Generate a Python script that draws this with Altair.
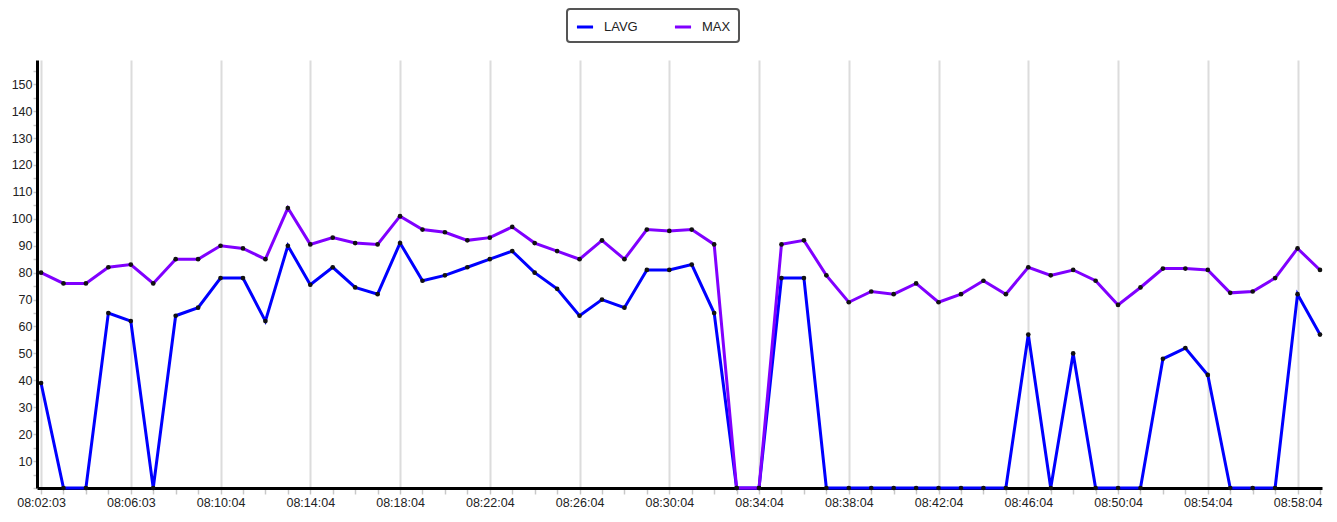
import altair as alt
import pandas as pd

times = [
    "08:02:03", "08:03:03", "08:04:03", "08:05:03", "08:06:03", "08:07:03", "08:08:04", "08:09:04",
    "08:10:04", "08:11:04", "08:12:04", "08:13:04", "08:14:04", "08:15:04", "08:16:04", "08:17:04",
    "08:18:04", "08:19:04", "08:20:04", "08:21:04", "08:22:04", "08:23:04", "08:24:04", "08:25:04",
    "08:26:04", "08:27:04", "08:28:04", "08:29:04", "08:30:04", "08:31:04", "08:32:04", "08:33:04",
    "08:34:04", "08:35:04", "08:36:04", "08:37:04", "08:38:04", "08:39:04", "08:40:04", "08:41:04",
    "08:42:04", "08:43:04", "08:44:04", "08:45:04", "08:46:04", "08:47:04", "08:48:04", "08:49:04",
    "08:50:04", "08:51:04", "08:52:04", "08:53:04", "08:54:04", "08:55:04", "08:56:04", "08:57:04",
    "08:58:04", "08:59:04",
]

lavg = [39, 0, 0, 65, 62, 0, 64, 67, 78, 78,
        62, 90, 75.5, 82, 74.5, 72, 91, 77, 79, 82,
        85, 88, 80, 74, 64, 70, 67, 81, 81, 83,
        65, 0, 0, 78, 78, 0, 0, 0, 0, 0,
        0, 0, 0, 0, 57, 0, 50, 0, 0, 0,
        48, 52, 42, 0, 0, 0, 72, 57]

maxv = [80, 76, 76, 82, 83, 76, 85, 85, 90, 89,
        85, 104, 90.5, 93, 91, 90.5, 101, 96, 95, 92,
        93, 97, 91, 88, 85, 92, 85, 96, 95.5, 96,
        90.5, 0, 0, 90.5, 92, 79, 69, 73, 72, 76,
        69, 72, 77, 72, 82, 79, 81, 77, 68, 74.5,
        81.5, 81.5, 81, 72.5, 73, 78, 89, 81]

y_ticks = [0, 5, 10, 15, 20, 25, 30, 35, 40, 45, 50, 55, 60, 65, 70, 75, 80,
           85, 90, 95, 100, 105, 110, 115, 120, 125, 130, 135, 140, 145, 150, 155]

series = ["LAVG", "MAX"]
colors = ["#0000ff", "#8000ff"]

rows = []
for i, t in enumerate(times):
    rows.append({"idx": i, "time": t, "series": "LAVG", "value": lavg[i]})
for i, t in enumerate(times):
    rows.append({"idx": i, "time": t, "series": "MAX", "value": maxv[i]})
df = pd.DataFrame(rows)

label_expr = "datum.value % 4 === 0 ? [" + ",".join("'%s'" % t for t in times) + "][datum.value] : ''"

x = alt.X(
    "idx:Q",
    scale=alt.Scale(domain=[-0.18, 57.09], nice=False, zero=False),
    axis=alt.Axis(
        values=list(range(len(times))),
        labelExpr=label_expr,
        title=None,
        grid=True,
        gridColor="#dcdcdc",
        gridWidth=2,
        gridOpacity={"condition": {"test": "datum.value % 4 === 0", "value": 1}, "value": 0},
        domainColor="#000000",
        domainWidth=3,
        tickColor="#c8c8c8",
        tickWidth=1.5,
        tickSize=6,
        labelFontSize=12.5,
        labelColor="#222222",
        labelFont="Liberation Sans",
        labelPadding=2,
        labelFlush=False,
        labelOverlap=False,
    ),
)

y = alt.Y(
    "value:Q",
    scale=alt.Scale(domain=[0, 159], nice=False),
    axis=alt.Axis(
        values=y_ticks,
        labelExpr="(datum.value % 10 === 0 && datum.value > 0) ? datum.label : ''",
        title=None,
        grid=False,
        domainColor="#000000",
        domainWidth=3,
        tickColor="#c8c8c8",
        tickWidth=1.5,
        tickSize=4,
        labelFontSize=12.5,
        labelColor="#222222",
        labelFont="Liberation Sans",
        labelPadding=1,
        labelOverlap=False,
        labelSeparation=0,
    ),
)

color = alt.Color(
    "series:N",
    scale=alt.Scale(domain=series, range=colors),
    legend=alt.Legend(
        title=None,
        orient="none",
        legendX=530,
        legendY=-51,
        direction="horizontal",
        symbolType="stroke",
        symbolStrokeWidth=3,
        symbolSize=260,
        labelFontSize=13,
        labelFont="Liberation Sans",
        labelColor="#222222",
        labelOffset=9,
        columnPadding=30,
        padding=8,
        strokeColor="#555555",
        cornerRadius=3,
        fillColor="#ffffff",
    ),
)

base = alt.Chart(df).encode(x=x, y=y)
lines = base.mark_line(strokeWidth=3).encode(color=color)
points = base.mark_point(filled=True, color="#111111", size=22, opacity=1)

chart = (
    alt.layer(lines, points)
    .properties(
        width=1285,
        height=428,
        autosize=alt.AutoSizeParams(type="none"),
        padding={"left": 29, "top": 52, "right": 7, "bottom": 26},
    )
    .configure_view(stroke=None)
    .configure_legend(strokeWidth=2)
)

chart.save("out.html", embed_options={"renderer": "svg", "actions": False})
